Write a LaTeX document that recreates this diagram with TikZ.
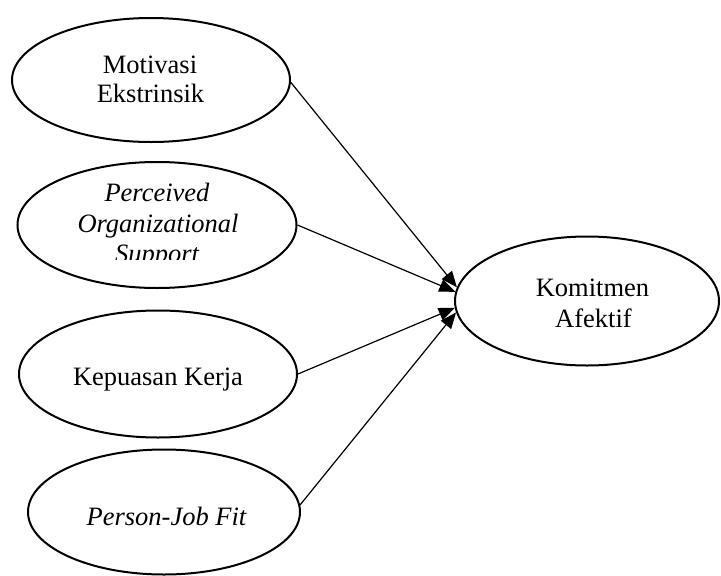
\documentclass[tikz,border=0pt]{standalone}
\usepackage{fontspec}
\setmainfont{Liberation Serif}
\usetikzlibrary{shapes.geometric,arrows.meta}
\begin{document}
\begin{tikzpicture}[x=1pt,y=-1pt,
  oval/.style={ellipse,draw,line width=2pt,inner sep=0pt},
  lbl/.style={anchor=base,inner sep=0pt,font=\fontsize{26.5}{29}\selectfont},
  arr/.style={line width=1.2pt,-{Triangle[length=16pt,width=13pt]}}]
\useasboundingbox (0,0) rectangle (721,576);
% ellipses
\node[oval,minimum width=278pt,minimum height=124pt] (m) at (151,80) {};
\node[oval,minimum width=279pt,minimum height=126pt] (p) at (157,225) {};
\node[oval,minimum width=278pt,minimum height=127pt] (k) at (158,374) {};
\node[oval,minimum width=272pt,minimum height=125pt] (j) at (164,512) {};
\node[oval,minimum width=264pt,minimum height=129pt] (a) at (587,301) {};
% texts
\node[lbl] (m1) at (150,73) {Motivasi};
\node[lbl] (m2) at (150.5,102) {Ekstrinsik};
\node[lbl] (p1) at (157,201) {\itshape Perceived};
\node[lbl] (p2) at (158,232) {\itshape Organizational};
\begin{scope}
\clip (100,240) rectangle (220,259.5);
\node[lbl] (p3) at (157,262) {\itshape Support};
\end{scope}
\node[lbl] (k1) at (158,385) {Kepuasan Kerja};
\node[lbl] (j1) at (166.5,525) {\itshape Person-Job Fit};
\node[lbl] (a1) at (592.5,296) {Komitmen};
\node[lbl] (a2) at (593.5,327) {Afektif};
% arrows
\draw[arr] (m.-1) -- (a.174);
\draw[arr] (p.east) -- (a.176.5);
\draw[arr] (k.east) -- (a.183);
\draw[arr] (j.3) -- (a.185);
\end{tikzpicture}
\end{document}
